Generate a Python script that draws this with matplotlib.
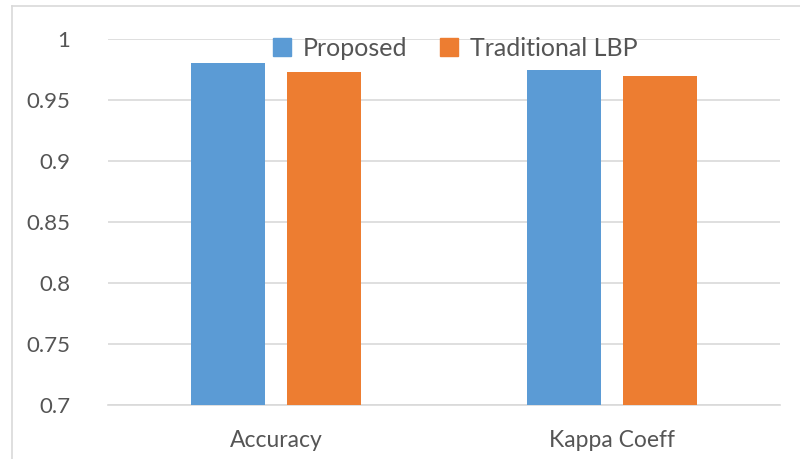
"""Accuracy / Kappa comparison bar chart (Excel style)."""

import matplotlib

matplotlib.use("Agg")

import matplotlib.pyplot as plt
import numpy as np
from matplotlib.lines import Line2D
from matplotlib.patches import Patch

categories = ["Accuracy", "Kappa Coeff"]
series_names = ["Proposed", "Traditional LBP"]
proposed = [0.980, 0.975]
traditional = [0.973, 0.970]
yticks = [0.7, 0.75, 0.8, 0.85, 0.9, 0.95, 1.0]
ytick_labels = ["0.7", "0.75", "0.8", "0.85", "0.9", "0.95", "1"]

COLORS = ["#5b9bd5", "#ed7d31"]
TEXT = "#555555"
GRID = "#d9d9d9"

plt.rcParams["font.family"] = ["Lato", "DejaVu Sans"]

fig = plt.figure(figsize=(8, 4.59), dpi=100)
ax = fig.add_axes([108 / 800, 1 - 405 / 459, 672 / 800, 366 / 459])

x = np.arange(len(categories))
width = 0.22
offset = 0.143
ax.bar(x - offset, proposed, width, color=COLORS[0], zorder=3)
ax.bar(x + offset, traditional, width, color=COLORS[1], zorder=3)

ax.set_xlim(-0.5, 1.5)
ax.set_ylim(0.7, 1.0)
ax.set_yticks(yticks, ytick_labels)
ax.set_xticks(x, categories)
ax.tick_params(axis="y", length=0, pad=27, labelsize=16, labelcolor=TEXT)
ax.tick_params(axis="x", length=0, pad=18, labelsize=16.5, labelcolor=TEXT)
ax.grid(axis="y", color=GRID, linewidth=1.2, zorder=0)
for name in ["top", "right", "left"]:
    ax.spines[name].set_visible(False)
ax.spines["bottom"].set_color(GRID)
ax.spines["bottom"].set_linewidth(1.2)

handles = [Patch(color=c, label=n) for c, n in zip(COLORS, series_names)]
fig.legend(
    handles=handles,
    loc="center",
    bbox_to_anchor=(455 / 800, 1 - 48 / 459),
    ncol=2,
    frameon=False,
    fontsize=18,
    labelcolor=TEXT,
    handlelength=0.75,
    handleheight=0.75,
    handletextpad=0.45,
    columnspacing=1.3,
)

# outer chart frame (partially visible in the crop)
fig.add_artist(Line2D([12 / 800, 1], [1 - 6 / 459, 1 - 6 / 459], transform=fig.transFigure, color=GRID, lw=1.2))
fig.add_artist(Line2D([12 / 800, 12 / 800], [0, 1 - 6 / 459], transform=fig.transFigure, color=GRID, lw=1.2))

fig.savefig("out.png", dpi=100)
